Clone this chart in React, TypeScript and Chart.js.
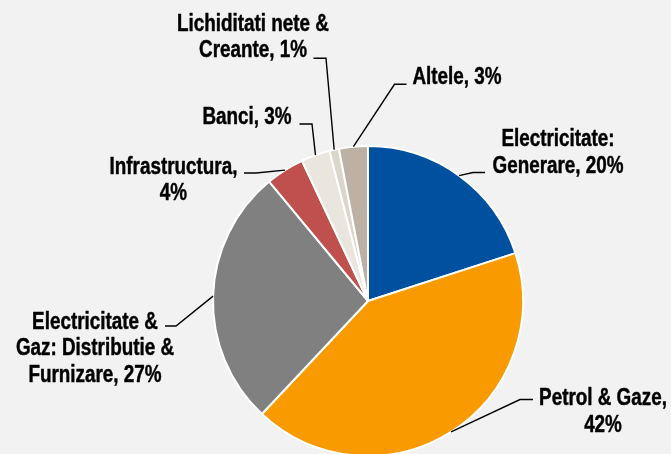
import React, { useEffect, useRef } from "react";
import { Chart, registerables } from "chart.js";

Chart.register(...registerables);

// ---- data ----
const categories = [
  "Electricitate: Generare",
  "Petrol & Gaze",
  "Electricitate & Gaz: Distributie & Furnizare",
  "Infrastructura",
  "Banci",
  "Lichiditati nete & Creante",
  "Altele",
];
const shares = [20, 42, 27, 4, 3, 1, 3];
const labelLines = [
  ["Electricitate:", "Generare, 20%"],
  ["Petrol & Gaze,", "42%"],
  ["Electricitate &", "Gaz: Distributie &", "Furnizare, 27%"],
  ["Infrastructura,", "4%"],
  ["Banci, 3%"],
  ["Lichiditati nete &", "Creante, 1%"],
  ["Altele, 3%"],
];

// ---- styles / layout ----
const sliceColors = ["#0050A0", "#F89A00", "#808080", "#C0504D", "#EBE6DD", "#DCD5CA", "#BDB0A4"];
// text centre x, first baseline y, elbow point, end of horizontal leader
const labelLayout = [
  { tx: 558, ty: 146, ex: 473, ey: 172.5, hx: 485 },
  { tx: 603, ty: 405, ex: 520, ey: 399.5, hx: 533 },
  { tx: 95, ty: 328.5, ex: 176, ey: 326, hx: 165 },
  { tx: 173.5, ty: 173.5, ex: 256, ey: 173, hx: 244 },
  { tx: 247, ty: 124, ex: 312, ey: 124, hx: 299.5 },
  { tx: 253, ty: 30.7, ex: 326, ey: 58.3, hx: 313.5 },
  { tx: 457, ty: 84.3, ex: 394.5, ey: 84.3, hx: 406.5 },
];
const LINE_HEIGHT = 26.5;

function pickFont(ctx: CanvasRenderingContext2D) {
  ctx.font = "bold 23px monospace";
  const a = ctx.measureText("Petrol & Gaze,").width;
  ctx.font = 'bold 23px "Liberation Sans Narrow", monospace';
  const b = ctx.measureText("Petrol & Gaze,").width;
  if (Math.abs(a - b) > 1) return { font: 'bold 23px "Liberation Sans Narrow"', sx: 1 };
  return { font: 'bold 23px "Liberation Sans", Arial, sans-serif', sx: 0.82 };
}

const labelPlugin = {
  id: "pieLabels",
  afterDraw(chart: any) {
    const ctx: CanvasRenderingContext2D = chart.ctx;
    const meta = chart.getDatasetMeta(0);
    const f = pickFont(ctx);
    meta.data.forEach((arc: any, i: number) => {
      const p = arc.getProps(["x", "y", "startAngle", "endAngle", "outerRadius"], true);
      const mid = (p.startAngle + p.endAngle) / 2;
      const sx = p.x + Math.cos(mid) * p.outerRadius;
      const sy = p.y + Math.sin(mid) * p.outerRadius;
      const L = labelLayout[i];
      ctx.save();
      ctx.strokeStyle = "#000";
      ctx.lineWidth = 1.4;
      ctx.beginPath();
      ctx.moveTo(sx, sy);
      ctx.lineTo(L.ex, L.ey);
      ctx.lineTo(L.hx, L.ey);
      ctx.stroke();
      ctx.fillStyle = "#000";
      ctx.strokeStyle = "#000";
      ctx.lineWidth = 0.45;
      ctx.lineJoin = "round";
      ctx.font = f.font;
      ctx.textAlign = "center";
      ctx.textBaseline = "alphabetic";
      labelLines[i].forEach((line, k) => {
        ctx.save();
        ctx.translate(L.tx, L.ty + k * LINE_HEIGHT);
        ctx.scale(f.sx, 1);
        ctx.fillText(line, 0, 0);
        ctx.strokeText(line, 0, 0);
        ctx.restore();
      });
      ctx.restore();
    });
  },
};

export default function App() {
  const ref = useRef<HTMLCanvasElement>(null);
  useEffect(() => {
    document.body.style.margin = "0";
    const chart = new Chart(ref.current!, {
      type: "pie",
      data: {
        labels: categories,
        datasets: [
          {
            data: shares,
            backgroundColor: sliceColors,
            borderColor: "#FFFFFF",
            borderWidth: 2,
            hoverOffset: 0,
            offset: 0,
          },
        ],
      },
      options: {
        responsive: false,
        animation: false,
        events: [],
        devicePixelRatio: 1,
        layout: { padding: { left: 212, right: 147, top: 145, bottom: 13 } },
        plugins: {
          legend: { display: false },
          tooltip: { enabled: false },
        },
      },
      plugins: [labelPlugin],
    });
    return () => chart.destroy();
  }, []);
  return (
    <div
      style={{
        position: "fixed",
        left: 0,
        top: 0,
        width: 671,
        height: 454,
        overflow: "hidden",
        background: "#F2F2F2",
      }}
    >
      <canvas ref={ref} width={671} height={470} style={{ width: 671, height: 470, display: "block" }} />
    </div>
  );
}
